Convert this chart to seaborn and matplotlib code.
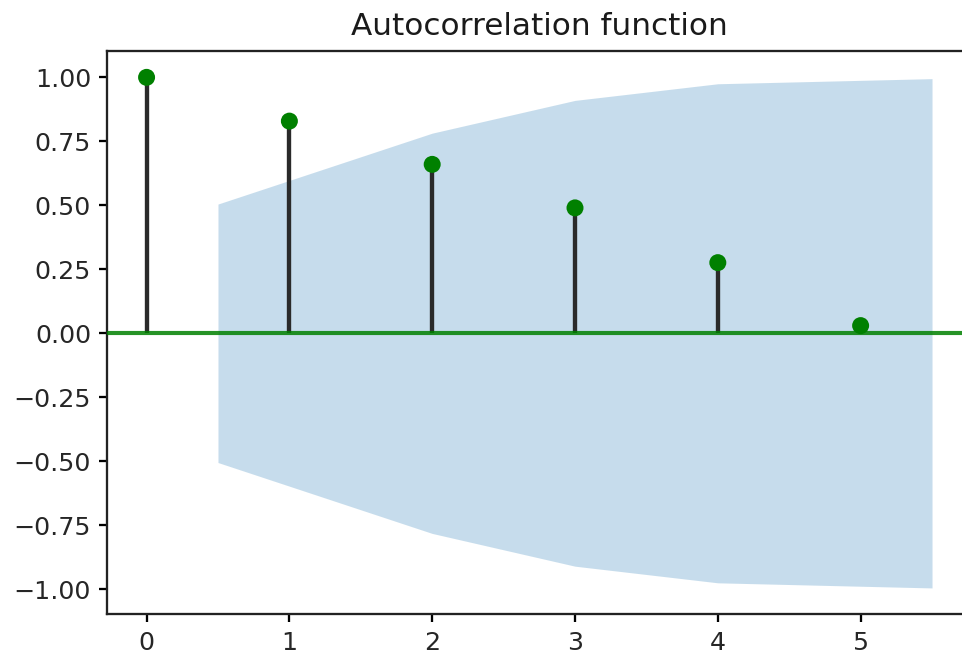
import matplotlib
matplotlib.use("Agg")
import matplotlib.pyplot as plt
import seaborn as sns
import numpy as np
import pandas as pd

# Data
lags = [0, 1, 2, 3, 4, 5]
acf_values = [1.0, 0.829, 0.660, 0.490, 0.276, 0.030]
band_x = [0.5, 2, 3, 4, 5.5]
band_upper = [0.505, 0.782, 0.910, 0.975, 0.995]
tick_positions = [0, 1, 2, 3, 4, 5]
ytick_values = [1.0, 0.75, 0.5, 0.25, 0.0, -0.25, -0.5, -0.75, -1.0]
title = "Autocorrelation function"

DPI = 165
fig = plt.figure(figsize=(963 / DPI, 659 / DPI), dpi=DPI)
ax = fig.add_axes([107.3 / 963, 44.7 / 659, 864 / 963, 563.3 / 659])

df = pd.DataFrame({"lag": lags, "acf": acf_values})

ax.vlines(df["lag"], 0, df["acf"], colors="#2a2a2a", linewidth=1.9, zorder=2)
ax.axhline(0, color="g", linewidth=1.8, alpha=0.85, zorder=3)
sns.scatterplot(data=df, x="lag", y="acf", ax=ax, color="g", s=55,
                edgecolor="none", linewidth=0, zorder=4, legend=False)

bu = np.array(band_upper)
ax.fill_between(band_x, -bu, bu, color="C0", alpha=0.25, linewidth=0, zorder=1)

ax.set_xlim(-0.275, 5.775)
ax.set_ylim(-1.098, 1.103)
ax.set_xticks(tick_positions)
ax.set_yticks(ytick_values)
ax.set_xlabel("")
ax.set_ylabel("")
ax.set_title(title, fontsize=13.6, color="#1a1a1a", pad=7)
ax.tick_params(labelsize=11.0, labelcolor="#262626", width=1.0, length=3.6)
for sp in ax.spines.values():
    sp.set_linewidth(1.0)
    sp.set_color("#222222")

fig.savefig("out.png", dpi=DPI)
